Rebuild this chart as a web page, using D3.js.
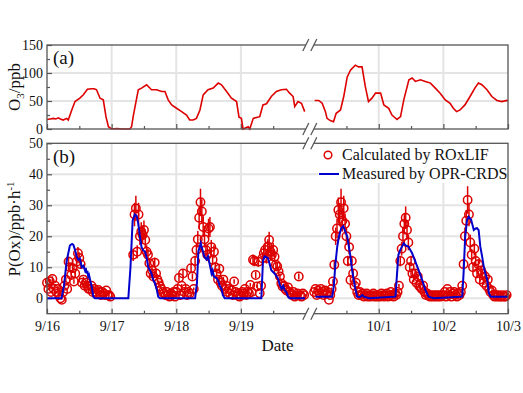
<!DOCTYPE html>
<meta charset="utf-8">
<script src="https://d3js.org/d3.v7.min.js"></script>
<style>
  body { margin: 0; background: #fff; }
  text { font-family: "Liberation Serif", "Times New Roman", serif; fill: #111; }
</style>
<div id="chart"></div>
<script>
// O3 (ppb), [hours since 9/16 00:00, value]
var o3Left = [[0,17],[1.2,18],[2.4,19],[3.3,18],[4.2,20],[5,18],[6,16],[7.3,19],[7.9,16],[9.2,34],[10.4,49],[12.2,55],[13.5,61],[15,71],[16.6,72],[17.5,72],[18.4,70],[19.7,55],[20.9,52],[21.9,22],[22.8,4],[24,0],[26,1],[28,0],[30.8,0],[31.4,4],[32,22],[32.7,40],[33.9,70],[35.1,73],[37,79],[38.8,70],[40.7,70],[42.6,67],[43.8,67],[45,52],[46.3,43],[48.1,37],[50,31],[51.8,25],[53,16],[54.3,16],[55.5,19],[56.8,34],[58,61],[59.8,70],[61.7,73],[63.6,82],[64.8,79],[66.7,67],[68.5,55],[70.4,49],[71.3,21],[72.2,19],[72.8,0],[74.7,4],[75.3,0],[76.6,19],[79,22],[80.2,43],[81.5,45],[83.3,58],[85.2,67],[87,70],[88.9,71],[90.1,64],[91.4,58],[92,40],[93.2,49],[94.5,46],[95.7,31]];
// O3 (ppb), [hours since 9/30 00:00, value]
var o3Right = [[0.2,51],[1.7,51],[3,46],[4.2,31],[4.8,19],[6,15],[7.2,13],[8.2,28],[9.8,34],[11,58],[12.3,93],[13.5,105],[15.3,114],[16.5,111],[17.8,111],[19,76],[20.2,49],[21.5,55],[22.8,64],[24.7,64],[25.9,43],[27.7,37],[28.9,25],[30.8,17],[32.1,22],[33.3,52],[35.2,88],[36.4,91],[37.6,85],[39.5,88],[41.3,85],[43.2,82],[45,73],[46.8,64],[48.7,52],[50.5,46],[51.7,37],[52.9,31],[54.2,34],[56,43],[57.9,58],[59.7,73],[61,82],[62.3,79],[64.2,70],[66,58],[67.9,51],[69.7,49],[71.6,51],[72,50]];

// P(Ox) measured by OPR-CRDS, [hours since 9/16 00:00, value]
var measLeft = [[0,0],[5.4,0],[6.3,4],[7.3,12],[8.5,17],[9.3,17.5],[9.8,17.2],[10.4,15.6],[11,13.5],[11.6,12.4],[12.2,12.8],[12.9,10],[13.5,10.5],[14.1,9],[14.4,9.8],[14.7,8],[15,8.8],[15.3,7],[15.6,7.5],[16,6],[16.6,3.7],[17.2,0.5],[17.8,0],
  [30.2,0],[31,10],[31.8,25],[32.6,27],[33.3,26.5],[33.9,24],[34.5,20],[35.1,16.5],[35.7,15.5],[36.4,15],[37,13],[37.6,10],[38.2,9],[38.8,8],[39.4,6],[40,5],[40.7,3],[41.3,0.5],[42,0],
  [55,0],[55.7,5],[56.2,15],[57.1,17.8],[57.6,16],[58.4,13.5],[59.2,12.5],[59.8,13.5],[60.4,11],[61.1,8],[61.5,9],[62,7],[62.9,6.5],[63.6,5.5],[64.1,4],[64.8,3],[65.3,1],[66,0],
  [79.6,0],[80.2,12],[80.8,13.5],[82,13],[82.7,11],[83.3,9],[84.5,8],[85.7,6.5],[86.4,4.5],[87.1,3],[87.7,4],[88.3,2.5],[88.9,2],[89.5,0.5],[90.1,0],[95.8,0]];
// P(Ox) measured, [hours since 9/30 00:00, value]
var measRight = [[0.5,0.5],[6.7,0.5],[7.3,3.8],[7.9,11],[8.6,16.7],[9.2,19.9],[10.1,22.6],[10.8,23.3],[11.4,22],[12.3,19.9],[12.9,16.7],[13.5,13.4],[14.1,9.1],[14.7,5.9],[15.4,2.7],[16,0.5],[17,0.3],[17.9,1],[18.5,0.5],[20.4,0],
  [30.2,0.5],[30.8,8],[31.3,14],[32,15.6],[33.3,17.7],[34,17],[35,16.7],[36.4,14.5],[37.6,11.8],[38.8,9.1],[40.1,5.9],[41.3,2.7],[42.5,0.5],[44.4,0],
  [55,0.5],[55.5,8],[56.1,19.9],[56.8,25.3],[57.4,26.3],[58.3,25.3],[59.3,22],[60,22.5],[60.5,22.6],[61.1,22],[61.7,16.7],[62.4,13.4],[63,10.2],[63.6,8],[64.3,5.9],[64.9,1.6],[65.6,0.5],[72,0.5]];

// P(Ox) calculated by ROxLIF, half-hourly values per day (null = no data)
var calcSep16 = [5,3,5.5,2,6.2,3,4,2, 3,1,0,-0.5,2,4,6,3, 11.8,10,7.5,9.7,5.4,8,11.8,14.5, 13,11,5,6,4,5,4,3, 3,4,2,3,2,1.5,2.7,2, 1,2,1.5,1,2.5,1,1,0.5];
var calcSep17 = [null,null,null,null,null,null,null,null, null,null,null,null,null,null,null,null, 14,27,29,15,27,20,21.5,20.4, 22,18.8,15,14,11.3,8,9,7, 11.5,8,6,5,3.8,3,2,1.5, 1,2,1,0.5,1.5,1,2,0.5];
var calcSep18 = [2,3,6.5,1,4,8,2,3, 1,2,1.5,9.7,7,3,12,15.6, 19,26,31,28,23,19,15.6,14, 22.5,23,16.5,12.4,15,10,8,6, 9.5,5,4,6,3,4,2,3, 1.5,2.5,1,5.4,2,1,1.5,0.5];
var calcSep19 = [1,2,1.5,3,1,2,1.5,4.3, 2,12.4,12,7.5,3.8,11.8,1.6,4, 12.9,14.5,15.6,13,16.7,18.8,15,14, 15.6,13.4,10.8,10.2,8.6,7,4.8,3.8, 4,3,2.5,3.5,2,1.5,1,2, 0.5,1,1.5,7,1,0.5,1.5,1];
var calcSep30 = [2,3,1,2.5,1.5,3,2,1, 2.5,1.5,2,-0.5,1,3,5.4,10.8, 20,22.5,28.5,27,31,25,29,24, 20,12,16.5,5.9,12,8,4,5, 2,1,2,1,1.5,0.5,1,1.5, 0.5,1,0.5,1,1.5,0.5,1,0.5];
var calcOct1 = [1,0.5,1.5,1,0.5,1,1.5,0.5, 1,2,1,0.5,1.5,1,2,4, 12,16,20,24,26,22,18,10, 12,8,6,8,5,7,4,3.5, 3,4,2,1,1.5,1,0.5,1, 0.5,1,0.5,1,0.5,1,0.5,1];
var calcOct2 = [1,2,0.5,3,1,2,0.5,1.5, 2,1,0.5,1.5,1,2,4,11, 20,25,31.7,27,18,14,10,16, 12,8,11,6,9,8,5,7, 4,6,3,2,2.5,1,0.5,1, 0.5,1,0.5,0.5,1,0.5,0.5,1];
var calcDays = [[new Date(2014,8,16), calcSep16], [new Date(2014,8,17), calcSep17], [new Date(2014,8,18), calcSep18],
  [new Date(2014,8,19), calcSep19], [new Date(2014,8,30), calcSep30], [new Date(2014,9,1), calcOct1], [new Date(2014,9,2), calcOct2]];
var relUnc = 0.14; // relative uncertainty of ROxLIF P(Ox)

var majorDates = [new Date(2014,8,16), new Date(2014,8,17), new Date(2014,8,18), new Date(2014,8,19),
  new Date(2014,9,1), new Date(2014,9,2), new Date(2014,9,3)];
var majorLabels = ["9/16", "9/17", "9/18", "9/19", "10/1", "10/2", "10/3"];
var minorDates = [new Date(2014,8,16,12), new Date(2014,8,17,12), new Date(2014,8,18,12), new Date(2014,8,19,12),
  new Date(2014,8,30,12), new Date(2014,9,1,12), new Date(2014,9,2,12)];

var width = 523, height = 393;
var left = 47, right = 508, gap = 8.6;
var dayW = (right - left - gap) / 7;

var svg = d3.select("#chart").append("svg")
  .attr("width", width).attr("height", height);

var startL = new Date(2014,8,16), endL = new Date(2014,8,20), startR = new Date(2014,8,30), endR = new Date(2014,9,3);
var x = d3.scaleTime()
  .domain([startL, endL, startR, endR])
  .range([left, left + 4*dayW, left + 4*dayW + gap, right]);
var brk = left + 4*dayW + gap/2;

function hrs(base, h) { return new Date(base.getTime() + h*3600000); }

var ya = d3.scaleLinear().domain([0, 150]).range([129, 45]);
var yb = d3.scaleLinear().domain([-5, 50]).range([313.7, 143.3]);

var red = "#dd0000", blue = "#0000cc", axisCol = "#555", gridCol = "#e4e4e4";

function panel(y, majorY, minorY, showLabels) {
  var g = svg.append("g");
  var top = y.range()[1], bot = y.range()[0];
  // grid
  g.selectAll(".vg").data(majorDates.slice(1, -1)).enter().append("line")
    .attr("x1", d => x(d)).attr("x2", d => x(d)).attr("y1", top).attr("y2", bot)
    .attr("stroke", gridCol).attr("stroke-width", 2);
  g.selectAll(".hg").data(majorY.slice(0, -1).filter(v => v > y.domain()[0])).enter().append("line")
    .attr("x1", left).attr("x2", right).attr("y1", d => y(d)).attr("y2", d => y(d))
    .attr("stroke", gridCol).attr("stroke-width", 2);
  // bottom axis
  g.append("g").attr("transform", "translate(0," + bot + ")")
    .call(d3.axisBottom(x).tickValues(majorDates).tickSize(-5).tickPadding(7)
      .tickFormat((d, i) => showLabels ? majorLabels[i] : ""));
  g.append("g").attr("transform", "translate(0," + bot + ")")
    .call(d3.axisBottom(x).tickValues(minorDates).tickSize(-3).tickFormat(""));
  // left axis
  g.append("g").attr("transform", "translate(" + left + ",0)")
    .call(d3.axisLeft(y).tickValues(majorY).tickSize(-5).tickPadding(4));
  g.append("g").attr("transform", "translate(" + left + ",0)")
    .call(d3.axisLeft(y).tickValues(minorY).tickSize(-3).tickFormat(""));
  g.selectAll(".domain").remove();
  g.selectAll(".tick line").attr("stroke", axisCol).attr("stroke-width", 1.2);
  g.selectAll(".tick text").style("font-family", "Liberation Serif").style("font-size", "14px").attr("fill", "#111");
  return g;
}

function frame(y) {
  var top = y.range()[1], bot = y.range()[0];
  svg.append("rect").attr("x", left).attr("y", top).attr("width", right - left).attr("height", bot - top)
    .attr("fill", "none").attr("stroke", axisCol).attr("stroke-width", 1.3);
  [top, bot].forEach(function(yy) {
    svg.append("rect").attr("x", brk - 4).attr("y", yy - 1.5).attr("width", 8).attr("height", 3).attr("fill", "#fff");
    [-4, 4].forEach(function(dx) {
      svg.append("line").attr("x1", brk + dx - 3).attr("y1", yy + 6).attr("x2", brk + dx + 3).attr("y2", yy - 6)
        .attr("stroke", axisCol).attr("stroke-width", 1.2);
    });
  });
}

// ---- panel (a) ----
panel(ya, [0, 50, 100, 150], [25, 75, 125], false);
var lineA = d3.line().x(d => x(d[0])).y(d => ya(d[1]));
svg.append("path").datum(o3Left.map(d => [hrs(startL, d[0]), d[1]]))
  .attr("d", lineA).attr("fill", "none").attr("stroke", red).attr("stroke-width", 1.6);
svg.append("path").datum(o3Right.map(d => [hrs(startR, d[0]), d[1]]))
  .attr("d", lineA).attr("fill", "none").attr("stroke", red).attr("stroke-width", 1.6);
frame(ya);
svg.append("text").attr("x", 53).attr("y", 64).style("font-size", "19px").text("(a)");
svg.append("text").attr("transform", "translate(20,87) rotate(-90)").attr("text-anchor", "middle")
  .style("font-size", "17px")
  .call(t => { t.append("tspan").text("O"); t.append("tspan").attr("dy", 4).style("font-size", "11px").text("3");
    t.append("tspan").attr("dy", -4).text("/ppb"); });

// ---- panel (b) ----
panel(yb, [0, 10, 20, 30, 40, 50], [5, 15, 25, 35, 45], true);
var pts = [];
calcDays.forEach(function(dd) {
  dd[1].forEach(function(v, i) { if (v !== null) pts.push({t: hrs(dd[0], i*0.5), v: v}); });
});
svg.append("g").selectAll("line").data(pts).enter().append("line")
  .attr("x1", d => x(d.t)).attr("x2", d => x(d.t))
  .attr("y1", d => yb(d.v * (1 - relUnc))).attr("y2", d => yb(d.v * (1 + relUnc)))
  .attr("stroke", red).attr("stroke-width", 1.5);
svg.append("g").selectAll("circle").data(pts).enter().append("circle")
  .attr("cx", d => x(d.t)).attr("cy", d => yb(d.v)).attr("r", 4.2)
  .attr("fill", "none").attr("stroke", red).attr("stroke-width", 1.5);
var lineB = d3.line().x(d => x(d[0])).y(d => yb(d[1]));
svg.append("path").datum(measLeft.map(d => [hrs(startL, d[0]), d[1]]))
  .attr("d", lineB).attr("fill", "none").attr("stroke", blue).attr("stroke-width", 2);
svg.append("path").datum(measRight.map(d => [hrs(startR, d[0]), d[1]]))
  .attr("d", lineB).attr("fill", "none").attr("stroke", blue).attr("stroke-width", 2);

// legend
svg.append("rect").attr("x", 318).attr("y", 145).attr("width", 188).attr("height", 38).attr("fill", "#fff");
svg.append("circle").attr("cx", 328).attr("cy", 155).attr("r", 3.8)
  .attr("fill", "none").attr("stroke", red).attr("stroke-width", 1.5);
svg.append("text").attr("x", 342).attr("y", 160).style("font-size", "16px").text("Calculated by ROxLIF");
svg.append("line").attr("x1", 319).attr("x2", 339).attr("y1", 174).attr("y2", 174)
  .attr("stroke", blue).attr("stroke-width", 2);
svg.append("text").attr("x", 342).attr("y", 179).style("font-size", "16px").text("Measured by OPR-CRDS");

frame(yb);
svg.append("text").attr("x", 53).attr("y", 163).style("font-size", "19px").text("(b)");
svg.append("text").attr("transform", "translate(20,229) rotate(-90)").attr("text-anchor", "middle")
  .style("font-size", "17px")
  .call(t => { t.append("tspan").text("P(Ox)/ppb\u00b7h"); t.append("tspan").attr("dy", -6).style("font-size", "11px").text("-1"); });
svg.append("text").attr("x", (left + right)/2).attr("y", 351).attr("text-anchor", "middle")
  .style("font-size", "17px").text("Date");
</script>
